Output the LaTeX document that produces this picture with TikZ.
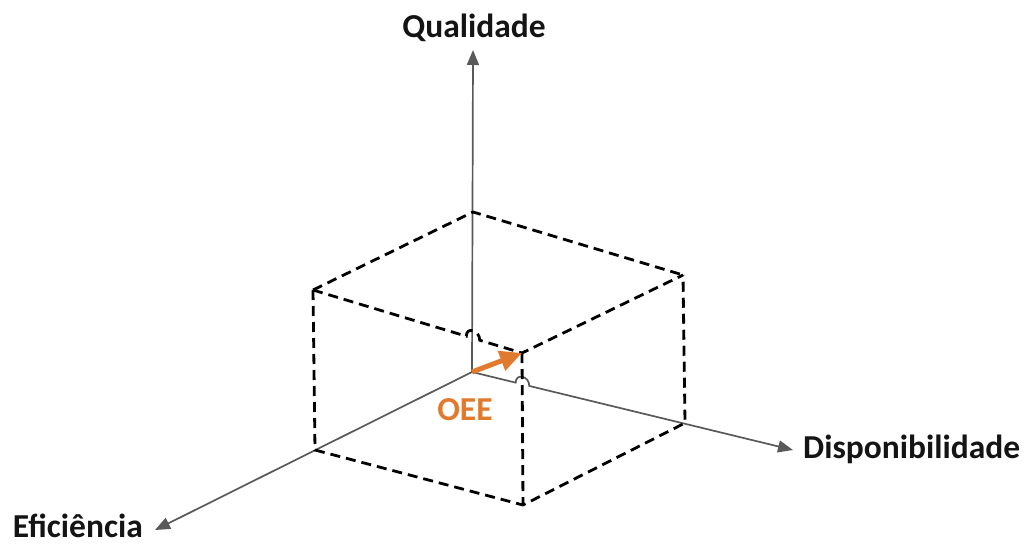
\documentclass[tikz,border=0pt]{standalone}
\usepackage{fontspec}
\setmainfont{Carlito}
\usetikzlibrary{arrows.meta,calc}
\definecolor{axisgray}{HTML}{595959}
\definecolor{oeeorange}{HTML}{E07A2E}
\definecolor{labelcol}{HTML}{141414}
\begin{document}
\begin{tikzpicture}[x=1pt,y=-1pt,
  axis/.style={draw=axisgray, line width=1.7pt, -{Triangle[length=15pt,width=12pt]}},
  cube/.style={draw=black, line width=2.8pt, dash pattern=on 10pt off 6pt},
  lbl/.style={font=\fontsize{33.5}{38}\selectfont\bfseries, text=labelcol, inner sep=0pt},
  oee/.style={draw=oeeorange, line width=5pt, -{Triangle[length=22pt,width=20pt]}}]
\useasboundingbox (0,0) rectangle (1027,544);
% vertices
\coordinate (O) at (472,372);
\coordinate (TB) at (473,212);
\coordinate (TR) at (683,275);
\coordinate (TL) at (313,290);
\coordinate (TF) at (522,353);
\coordinate (BL) at (315,450);
\coordinate (BF) at (523,505);
\coordinate (BR) at (685,423);
% labels
\node[lbl, anchor=base] (q) at (474,37) {Qualidade};
\node[lbl, anchor=base west] (d) at (803,458) {Disponibilidade};
\node[lbl, anchor=base east] (e) at (143,537) {Eficiência};
\node[lbl, anchor=base, text=oeeorange] (oeelbl) at (465,420) {OEE};
% axis ends
\coordinate (Qend) at (473,50);
\coordinate (Dend) at (793,450);
\coordinate (Eend) at (155,530);
% crossings
\coordinate (X1) at (473,338.2);
\coordinate (X2) at (522.5,384.3);
% axes
\draw[axis] (O) -- (Qend);
\draw[axis] (O) -- (Eend);
\draw[axis] (O) -- ($(X2)!7pt!(O)$)
  .. controls ($($(X2)!7pt!(O)$)+(0,-10)$) and ($($(X2)!7pt!(Dend)$)+(0,-10)$) .. ($(X2)!7pt!(Dend)$)
  -- (Dend);
% cube
\draw[cube] (TL) -- (TB) -- (TR);
\draw[cube] (TL) -- ($(X1)!7pt!(TL)$)
  .. controls ($($(X1)!7pt!(TL)$)+(0,-10)$) and ($($(X1)!7pt!(TF)$)+(0,-10)$) .. ($(X1)!7pt!(TF)$)
  -- (TF) -- (TR);
\draw[cube] (TL) -- (BL) -- (BF) -- (BR) -- (TR);
\draw[cube] (TF) -- (BF);
% OEE arrow
\draw[oee] (O) -- (TF);
\end{tikzpicture}
\end{document}
